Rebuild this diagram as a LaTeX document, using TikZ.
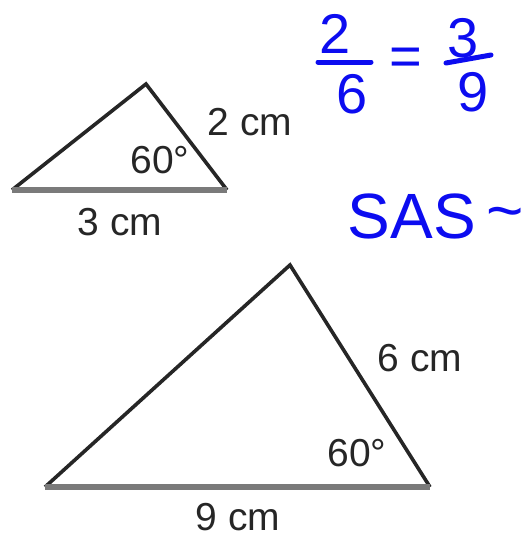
\documentclass[tikz,border=0pt]{standalone}
\usepackage{fontspec}
\setmainfont{Liberation Sans}
\usetikzlibrary{positioning}
\definecolor{ink}{RGB}{38,38,38}
\definecolor{baseg}{RGB}{122,122,122}
\definecolor{pen}{RGB}{12,12,240}
\tikzset{
  side/.style={draw=ink, line width=3.6pt, line join=miter},
  basel/.style={draw=baseg, line width=5.5pt},
  lbl/.style={font=\fontsize{39}{44}\selectfont, text=ink, inner sep=0pt},
  hand/.style={font=\fontsize{56}{60}\selectfont, text=pen, inner sep=0pt},
  pen stroke/.style={draw=pen, line width=5pt, line cap=round},
}

\begin{document}
\begin{tikzpicture}[x=1pt, y=-1pt]
  \useasboundingbox (0,0) rectangle (531,539);

  % small triangle
  \coordinate (sA) at (12,190);
  \coordinate (sB) at (146,84);
  \coordinate (sC) at (227,190);
  \draw[side] (sA) -- (sB) -- (sC);
  \draw[basel] (sA) -- (sC);
  \node[lbl] (stwo) at (250,122) {2 cm};
  \node[lbl] (sang) at (160,160) {60°};
  \node[lbl] (sthree) at (120,222) {3 cm};

  % large triangle
  \coordinate (bA) at (45,487);
  \coordinate (bB) at (290,265);
  \coordinate (bC) at (430,487);
  \draw[side] (bA) -- (bB) -- (bC);
  \draw[basel] (bA) -- (bC);
  \node[lbl] (bsix) at (420,358) {6 cm};
  \node[lbl] (bang) at (357,453) {60°};
  \node[lbl] (bnine) at (238,517) {9 cm};

  % handwritten ratio
  \node[hand] (ntwo) at (335,34) {2};
  \node[hand] (nsix) at (352,94) {6};
  \draw[pen stroke] (318,62) -- (371,62);
  \node[hand] (eq) at (406,62) {=};
  \node[hand] (nthree) at (463,38) {3};
  \node[hand] (nnine) at (473,92) {9};
  \draw[pen stroke] (446,63) -- (491,55);
  \node[hand, font=\fontsize{64}{68}\selectfont] (sas) at (436,216) {SAS\,\raisebox{6pt}{\~{}}};
\end{tikzpicture}
\end{document}
